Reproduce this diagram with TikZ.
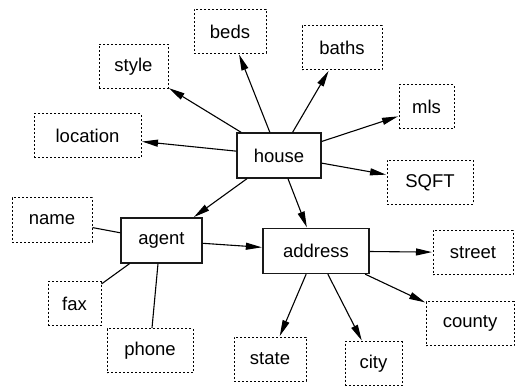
\documentclass[tikz,border=0pt]{standalone}
\usepackage{fontspec}
\setmainfont{Liberation Sans}
\usetikzlibrary{arrows.meta}
\begin{document}
\begin{tikzpicture}[x=1pt,y=-1pt,
  every node/.style={font=\fontsize{18.5}{20}\selectfont, inner sep=0pt, anchor=center},
  entity/.style={draw=black!90, line width=1.3pt, fill=white, minimum height=45pt},
  attr/.style={draw=black, line width=1pt, dash pattern=on 2pt off 2pt, minimum height=44pt},
  link/.style={draw=black, line width=1.1pt},
  arr/.style={link, -{Triangle[length=16pt,width=7pt]}, shorten >=0.5pt}
]
\useasboundingbox (0,0) rectangle (516,387);

% entities
\node[entity, minimum width=84pt]  (house)   at (279,155.5) {house};
\node[entity, minimum width=81pt]  (agent)   at (161.5,240.5) {agent};
\node[entity, minimum width=106pt] (address) at (316,251) {address};

% attributes of house
\node[attr, minimum width=72pt]  (beds)     at (230,31.5)  {beds};
\node[attr, minimum width=80pt]  (baths)    at (342,48)    {baths};
\node[attr, minimum width=69pt]  (style)    at (133.5,66.5) {style};
\node[attr, minimum width=55pt]  (mls)      at (426.5,107) {mls};
\node[attr, minimum width=107pt] (location) at (87.5,136)  {location};
\node[attr, minimum width=86pt]  (sqft)     at (430,182.5) {SQFT};

% attributes of agent
\node[attr, minimum width=80pt]  (name)  at (52,220)    {name};
\node[attr, minimum width=53pt]  (fax)   at (74.5,303.5) {fax};
\node[attr, minimum width=86pt]  (phone) at (150,350.5) {phone};

% attributes of address
\node[attr, minimum width=80pt]  (street) at (473,252.5) {street};
\node[attr, minimum width=88pt]  (county) at (470,323.5) {county};
\node[attr, minimum width=72pt]  (state)  at (270,359)   {state};
\node[attr, minimum width=57pt]  (city)   at (373.5,363.5) {city};

% house edges
\draw[arr] (house) -- (beds);
\draw[arr] (house) -- (baths);
\draw[arr] (house) -- (style);
\draw[arr] (house) -- (mls);
\draw[arr] (house) -- (location);
\draw[arr] (house) -- (sqft);
\draw[arr] (house) -- (agent);
\draw[arr] (house) -- (address);

% agent edges
\draw[arr] (agent) -- (address);
\draw[link] (agent) -- (name);
\draw[link] (agent) -- (fax);
\coordinate (agentfoot) at ([xshift=-3.5pt]agent.south);
\coordinate (phonetop) at ([xshift=2pt]phone.north);
\draw[link] (agentfoot) -- (phonetop);

% address edges
\draw[arr] (address) -- (street);
\draw[arr] (address) -- (county);
\draw[arr] (address) -- (state);
\draw[arr] (address) -- (city);
\end{tikzpicture}
\end{document}
